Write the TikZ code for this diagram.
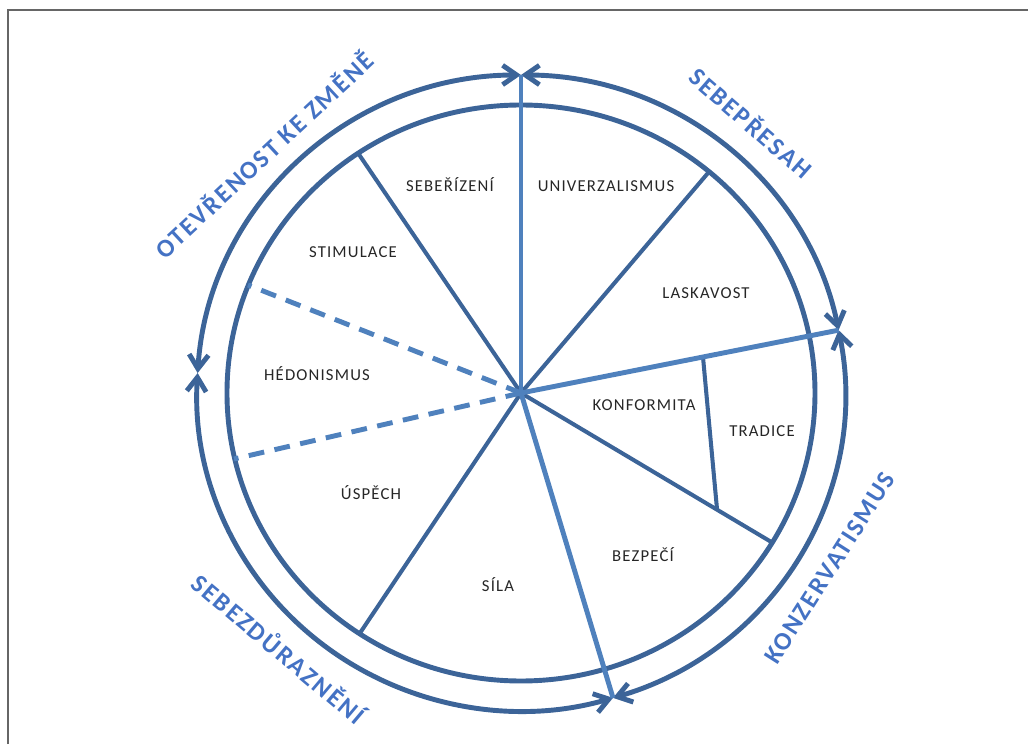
\documentclass[tikz,border=0pt]{standalone}
\usepackage{fontspec}
\setmainfont{Carlito}
\newfontfamily\valuefont[LetterSpace=7]{Carlito}
\newfontfamily\groupfont[LetterSpace=8]{Carlito Bold}
\usetikzlibrary{arrows.meta}
\definecolor{darkline}{RGB}{60,100,152}
\definecolor{lightline}{RGB}{79,129,189}
\definecolor{groupblue}{RGB}{68,114,196}

\begin{document}
\begin{tikzpicture}[x=0.02cm,y=0.02cm]
      \tikzstyle{ring}  = [draw=darkline, line width=2.8pt]
      \tikzstyle{loop}  = [ring, <->, >={Straight Barb[length=8pt,width=11pt]}]
      \tikzstyle{spoke} = [draw=darkline, line width=2.3pt]
      \tikzstyle{axis}  = [draw=lightline, line width=2.8pt]
      \tikzstyle{dashaxis} = [axis, dash pattern=on 9pt off 6pt]
      \tikzstyle{value}=[
        font=\valuefont\fontsize{9.5}{11}\selectfont,
        text=black!85,
        inner sep=0pt,
        text height=6pt,
        text depth=0pt,
      ]
      \tikzstyle{group}=[
        font=\groupfont\fontsize{14.5}{16}\selectfont,
        text=groupblue,
        inner sep=0pt,
        text height=9.2pt,
        text depth=0pt,
      ]

      \useasboundingbox (-521,-351) rectangle (507,393);
      \draw[gray!80!black, line width=0.6pt] (-513,-351) -- (-513,383) -- (507,383);

      \coordinate (c) at (0,0);
      % ends on the outer ring
      \coordinate (toppt) at (90:324 and 318);
      \coordinate (rightpt) at (11.4:324 and 318);
      \coordinate (bottompt) at (-73.5:324 and 318);
      \coordinate (leftpt) at (176.4:324 and 318);
      % ends on the inner ring
      \coordinate (s1) at (-163,240);
      \coordinate (s2) at (187,220);
      \coordinate (s3) at (252,-150);
      \coordinate (s4) at (-161,-240);
      \coordinate (d1) at (-273,108);
      \coordinate (d2) at (-287,-66);
      \coordinate (k1) at (182,36);
      \coordinate (k2) at (196,-116);

      \draw[ring] (c) ellipse [x radius=294, y radius=288];
      \draw[loop] (toppt) arc[start angle=90, end angle=176.4, x radius=324, y radius=318];
      \draw[loop] (leftpt) arc[start angle=176.4, end angle=286.5, x radius=324, y radius=318];
      \draw[loop] (bottompt) arc[start angle=-73.5, end angle=11.4, x radius=324, y radius=318];
      \draw[loop] (rightpt) arc[start angle=11.4, end angle=90, x radius=324, y radius=318];

      \draw[spoke] (c) -- (s1);
      \draw[spoke] (c) -- (s2);
      \draw[spoke] (c) -- (s3);
      \draw[spoke] (c) -- (s4);
      \draw[spoke] (k1) -- (k2);
      \draw[dashaxis] (c) -- (d1);
      \draw[dashaxis] (c) -- (d2);
      \draw[axis] (c) -- (toppt);
      \draw[axis] (c) -- (rightpt);
      \draw[axis] (c) -- (bottompt);

      \node[value] (sebe) at (-71,207) {SEBEŘÍZENÍ};
      \node[value] (univ) at (85,207) {UNIVERZALISMUS};
      \node[value] (stim) at (-168,141) {STIMULACE};
      \node[value] (lask) at (185,100) {LASKAVOST};
      \node[value] (hedo) at (-204,18) {HÉDONISMUS};
      \node[value] (konf) at (123,-12) {KONFORMITA};
      \node[value] (trad) at (241,-38) {TRADICE};
      \node[value] (uspe) at (-150,-101) {ÚSPĚCH};
      \node[value] (bezp) at (122,-163) {BEZPEČÍ};
      \node[value] (sila) at (-23,-193) {SÍLA};

      \node[group, rotate=43] (open) at (-256,237) {OTEVŘENOST KE ZMĚNĚ};
      \node[group, rotate=-41] (trans) at (229,269) {SEBEPŘESAH};
      \node[group, rotate=57.5] (cons) at (309,-175) {KONZERVATISMUS};
      \node[group, rotate=-40.2] (enh) at (-243,-257) {SEBEZDŮRAZNĚNÍ};
\end{tikzpicture}
\end{document}
